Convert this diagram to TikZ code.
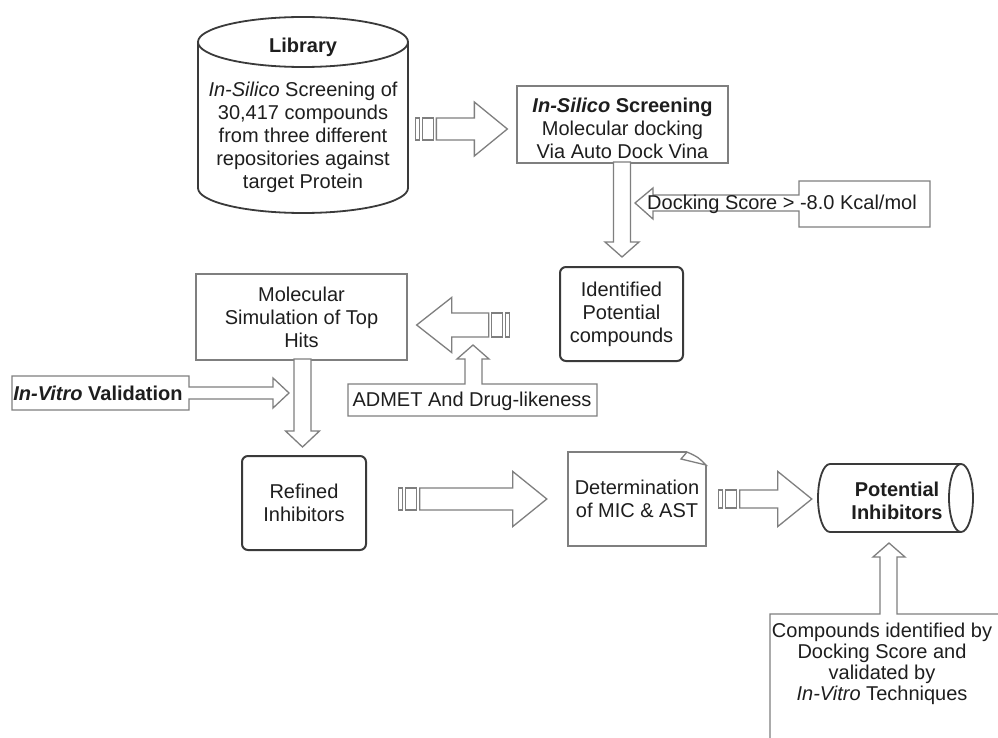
\documentclass[tikz,border=0pt]{standalone}
\usepackage{fontspec}
\setmainfont{Liberation Sans}
\usetikzlibrary{calc}

\definecolor{linegray}{HTML}{7F7F7F}
\definecolor{darkline}{HTML}{3A3A3A}
\definecolor{textblack}{HTML}{1E1E1E}

\tikzset{
  every node/.style={font=\fontsize{20}{23}\selectfont, text=textblack, align=center, inner sep=0pt},
  plainbox/.style={draw=linegray, line width=1.3pt},
  roundbox/.style={draw=darkline, line width=2pt, rounded corners=6pt},
  cylline/.style={draw=darkline, line width=1.8pt},
  arrowline/.style={draw=linegray, line width=1.3pt, fill=white},
  %% block arrow pointing along +x, origin at the tip: length, shaft half, head half, head length
  pics/blockarrow/.style n args={4}{code={
    \draw[arrowline] (0,0) -- (-#4,#3) -- (-#4,#2) -- (-#1,#2) -- (-#1,-#2) -- (-#4,-#2) -- (-#4,-#3) -- cycle;
  }},
  pics/stripedarrow/.style n args={4}{code={
    \draw[arrowline] (0,0) -- (-#4,#3) -- (-#4,#2) -- (-#1,#2) -- (-#1,-#2) -- (-#4,-#2) -- (-#4,-#3) -- cycle;
    \draw[arrowline] ({-#1-3},#2) rectangle ({-#1-14},-#2);
    \draw[arrowline] ({-#1-17},#2) rectangle ({-#1-21},-#2);
  }},
}

\begin{document}
\begin{tikzpicture}[x=1pt, y=-1pt]
  %% canvas of the reference size
  \useasboundingbox (0,0) rectangle (998,738);
  \fill[white] (0,0) rectangle (998,738);
  \clip (0,0) rectangle (998,738);

  %% library cylinder
  \draw[cylline] (198,42) -- (198,188) arc[start angle=180, end angle=0, x radius=105, y radius=25] -- (408,42);
  \draw[cylline] (303,42) ellipse[x radius=105, y radius=25];
  \node (libtop) at (303,47) {\textbf{Library}};
  \node (lib) at (303,137) {\textit{In-Silico} Screening of\\30,417 compounds\\from three different\\repositories against\\target Protein};

  %% boxes
  \node[plainbox, minimum width=211pt, minimum height=77pt] (screen) at (622.5,124.5) {};
  \node (screentext) at (622.5,128.5)
    {\textbf{\textit{In-Silico} Screening}\\Molecular docking\\Via Auto Dock Vina};
  \node[roundbox, minimum width=123pt, minimum height=94pt] (ident) at (621.5,314)
    {Identified\\Potential\\compounds};
  \node[plainbox, minimum width=211pt, minimum height=86pt] (mol) at (301.5,317)
    {Molecular\\Simulation of Top\\Hits};
  \node[roundbox, minimum width=124pt, minimum height=94pt] (refined) at (304,503)
    {Refined\\Inhibitors};

  %% note with folded corner
  \draw[plainbox] (706,465) -- (706,546) -- (568,546) -- (568,452) -- (687,452);
  \draw[plainbox] (687,452) -- (681,459) -- (706,465) .. controls (698,457) .. (687,452);
  \node[minimum width=138pt, minimum height=94pt] (determ) at (637,499) {Determination\\of MIC \& AST};

  %% potential inhibitors cylinder (lying)
  \draw[cylline] (961,464) -- (830,464) arc[start angle=270, end angle=90, x radius=12, y radius=34] -- (961,532);
  \draw[cylline] (961,498) ellipse[x radius=12, y radius=34];
  \node[minimum width=155pt, minimum height=68pt] (pot) at (895.5,498) {};
  \node (pottext) at (897,500.5) {\textbf{Potential}\\\textbf{Inhibitors}};

  %% arrows between the steps
  \pic at ($(screen.west)+(-9,4.5)$) {stripedarrow={71}{11}{27}{33}};
  \pic[rotate=-90] at ($(ident.north)+(0.5,-9)$) {blockarrow={95}{8.5}{17}{15}};
  \pic[rotate=180] at ($(mol.east)+(9,8)$) {stripedarrow={72}{12}{27.5}{35}};
  \pic[rotate=-90] at ($(refined.north)+(-1.5,-8)$) {blockarrow={88}{8.5}{17}{16}};
  \pic at ($(determ.west)+(-21,0)$) {stripedarrow={127}{11}{27.5}{34}};
  \pic at ($(pot.west)+(-6,1)$) {stripedarrow={72}{9}{27.5}{34}};

  %% callouts
  \draw[arrowline] (930,181) -- (799,181) -- (799,195) -- (653,195) -- (653,188) -- (635,203)
    -- (653,219) -- (653,211) -- (799,211) -- (799,227) -- (930,227) -- cycle;
  \node (dock) at (782,204) {Docking Score > -8.0 Kcal/mol};

  \draw[arrowline] (348,384) -- (465,384) -- (465,359) -- (457,359) -- (473,345) -- (489,359)
    -- (482,359) -- (482,384) -- (597,384) -- (597,416) -- (348,416) -- cycle;
  \node (admet) at (472,401) {ADMET And Drug-likeness};

  \draw[arrowline] (12,376) -- (189,376) -- (189,387) -- (273,387) -- (273,378) -- (289,393)
    -- (273,408) -- (273,399) -- (189,399) -- (189,410) -- (12,410) -- cycle;
  \node (vitro) at (98,393) {\textbf{\textit{In-Vitro} Validation}};

  \draw[arrowline] (770,760) -- (770,614) -- (880,614) -- (880,557) -- (873,557) -- (889,543)
    -- (905,557) -- (897,557) -- (897,614) -- (1010,614) -- (1010,760);
  \node[font=\fontsize{20}{21}\selectfont] (cmpd) at (882,664)
    {Compounds identified by\\Docking Score and\\validated by\\\textit{In-Vitro} Techniques};
\end{tikzpicture}
\end{document}
